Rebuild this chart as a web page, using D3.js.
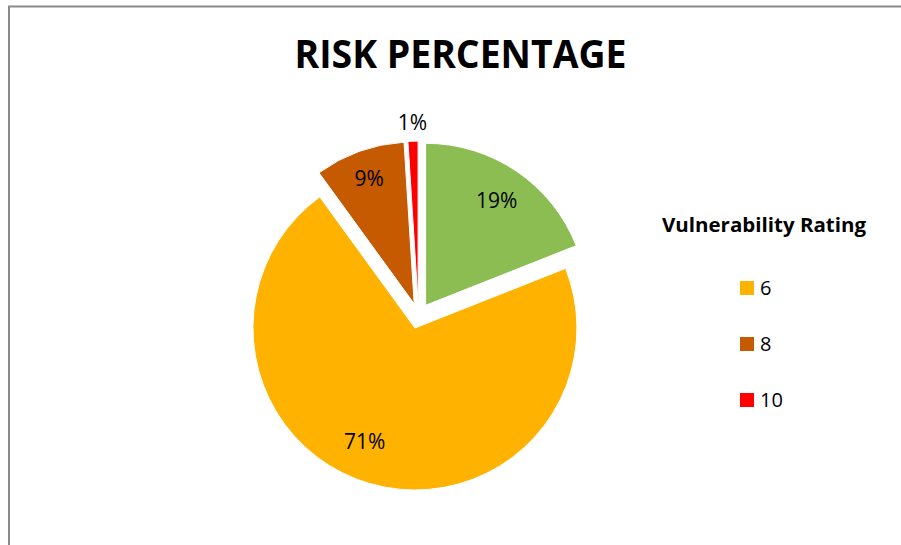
<!DOCTYPE html>
<html>
<head>
<meta charset="utf-8">
<script src="https://cdn.jsdelivr.net/npm/d3@7"></script>
<style>
  html, body { margin: 0; padding: 0; background: #ffffff; }
  svg { display: block; }
</style>
</head>
<body>
<svg id="chart" width="901" height="545"></svg>
<script>
// Share of findings by vulnerability rating (percent)
const ratings = [null, "6", "8", "10"];      // first slice has no legend entry
const shares = [19, 71, 9, 1];
const colors = ["#8bbd53", "#ffb300", "#c55a00", "#ff0000"];
const legendTitle = "Vulnerability Rating";
const chartTitle = "RISK PERCENTAGE";

// Label placement per slice: angle (deg, clockwise from top) and radius factor
const labelAngles = [34.2, 204, 340.2, 358.2];
const labelRadii = [0.78, 0.765, 0.82, 1.115];

const W = 901, H = 545;
const svg = d3.select("#chart");

// Outer frame
svg.append("rect")
  .attr("x", 9).attr("y", 6.5)
  .attr("width", 1000).attr("height", 1000)
  .attr("fill", "none")
  .attr("stroke", "#8a8a8a")
  .attr("stroke-width", 2);

// Title
svg.append("text")
  .attr("x", 460.5).attr("y", 68)
  .attr("text-anchor", "middle")
  .attr("font-family", "'Open Sans', 'Liberation Sans', sans-serif")
  .attr("font-weight", "bold")
  .attr("font-size", 40)
  .attr("textLength", 332)
  .attr("lengthAdjust", "spacingAndGlyphs")
  .attr("fill", "#000")
  .text(chartTitle);

// Pie
const cx = 418.5, cy = 315.8, R = 162, explode = 12.7;
const pie = d3.pie().sort(null).value(d => d.value).startAngle(0).endAngle(2 * Math.PI);
const arc = d3.arc().innerRadius(0).outerRadius(R);

const slices = pie(shares.map((v, i) => ({ value: v, rating: ratings[i], color: colors[i], i })));

const g = svg.append("g").attr("transform", `translate(${cx},${cy})`);

g.selectAll("path.slice")
  .data(slices)
  .join("path")
  .attr("class", "slice")
  .attr("transform", d => {
    const a = (d.startAngle + d.endAngle) / 2;
    return `translate(${explode * Math.sin(a)},${-explode * Math.cos(a)})`;
  })
  .attr("d", arc)
  .attr("fill", d => d.data.color)
  .attr("stroke", "#ffffff")
  .attr("stroke-width", 1);

// Percentage labels
g.selectAll("text.pct")
  .data(slices)
  .join("text")
  .attr("class", "pct")
  .attr("x", d => {
    const b = (d.startAngle + d.endAngle) / 2;
    const a = labelAngles[d.index] * Math.PI / 180;
    return explode * Math.sin(b) + R * labelRadii[d.index] * Math.sin(a);
  })
  .attr("y", d => {
    const b = (d.startAngle + d.endAngle) / 2;
    const a = labelAngles[d.index] * Math.PI / 180;
    return -explode * Math.cos(b) - R * labelRadii[d.index] * Math.cos(a);
  })
  .attr("dy", "0.36em")
  .attr("text-anchor", "middle")
  .attr("font-family", "'Open Sans', 'Liberation Sans', sans-serif")
  .attr("font-size", 21)
  .attr("fill", "#000")
  .text(d => d3.format(".0%")(d.data.value / 100));

// Legend
const legend = svg.append("g");
legend.append("text")
  .attr("x", 764).attr("y", 231.7)
  .attr("text-anchor", "middle")
  .attr("font-family", "'Open Sans', 'Liberation Sans', sans-serif")
  .attr("font-weight", "bold")
  .attr("font-size", 20)
  .attr("textLength", 204)
  .attr("lengthAdjust", "spacingAndGlyphs")
  .attr("fill", "#000")
  .text(legendTitle);

const legendItems = slices.filter(d => d.data.rating !== null);
const ly = d3.scalePoint().domain(legendItems.map(d => d.data.rating)).range([288, 400]);

const item = legend.selectAll("g.item")
  .data(legendItems)
  .join("g")
  .attr("class", "item")
  .attr("transform", d => `translate(740,${ly(d.data.rating)})`);

item.append("rect")
  .attr("x", 0).attr("y", -7)
  .attr("width", 14).attr("height", 14)
  .attr("fill", d => d.data.color);

item.append("text")
  .attr("x", 20).attr("y", 7.2)
  .attr("font-family", "'Open Sans', 'Liberation Sans', sans-serif")
  .attr("font-size", 20)
  .attr("fill", "#000")
  .text(d => d.data.rating);
</script>
</body>
</html>
